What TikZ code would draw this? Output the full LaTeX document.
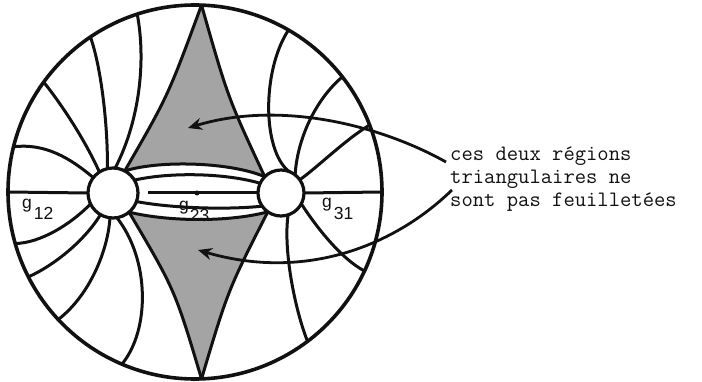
\documentclass[tikz,border=0pt]{standalone}
\usepackage{fontspec}
\usepackage{xcolor}
\usepackage{tikz}
\usetikzlibrary{arrows.meta}
\newfontfamily\labelfont{Liberation Sans}
\definecolor{FoliationInk}{HTML}{111111}
\definecolor{FoliationShade}{HTML}{A4A4A4}

\begin{document}
\begin{tikzpicture}[x=1pt,y=-1pt,
    leaf/.style={FoliationInk, line width=3pt},
    disc/.style={circle, draw=FoliationInk, line width=3.2pt, inner sep=0pt, outer sep=0pt, fill=white},
    noteline/.style={anchor=base west, inner sep=0pt, text=FoliationInk, font=\ttfamily\fontsize{22pt}{23pt}\selectfont},
    leaflabel/.style={anchor=base west, inner sep=0pt, text=FoliationInk, font=\labelfont\fontsize{17.5pt}{20pt}\selectfont},
    pointer/.style={FoliationInk, line width=2.8pt, -{Stealth[length=14pt,width=12pt]}}]
  \useasboundingbox (0,0) rectangle (702,382);
  \node[disc, minimum size=374pt, line width=3.6pt, fill=none] (bc) at (195,192) {};
  \node[disc, minimum size=50pt] (lc) at (113,193) {};
  \node[disc, minimum size=46pt] (rc) at (281,193) {};
  \fill[FoliationShade] (lc.62) .. controls (168,96) .. (bc.88) .. controls (228,98) .. (rc.135)
    .. controls (230,162) and (160,160) .. (lc.62) -- cycle;
  \fill[FoliationShade] (lc.-50) .. controls (170,222) and (230,222) .. (rc.235)
    .. controls (228,290) .. (bc.272.5) .. controls (175,290) .. (lc.-50) -- cycle;
  \node[leaflabel] (g12) at (22,209) {g\hspace{2pt}\raisebox{-11pt}{12}};
  \node[leaflabel] (g23) at (179,211) {g\hspace{1pt}\raisebox{-10.5pt}{23}};
  \node[leaflabel] (g31) at (322,207.5) {g\hspace{2pt}\raisebox{-12pt}{31}};
  \draw[leaf] (lc.62) .. controls (168,96) .. (bc.88);
  \draw[leaf] (rc.135) .. controls (228,98) .. (bc.88);
  \draw[leaf] (lc.-50) .. controls (175,290) .. (bc.272.5);
  \draw[leaf] (rc.235) .. controls (228,290) .. (bc.272.5);
  \draw[leaf] (lc.62) .. controls (160,160) and (230,162) .. (rc.135);
  \draw[leaf] (lc.31) .. controls (170,172) and (225,173) .. (rc.155);
  \coordinate (midStart) at (148,193);
  \draw[leaf] (midStart) -- (rc.180);
  \node[circle, fill=FoliationInk, inner sep=0pt, minimum size=5pt] (midDot) at (197,193) {};
  \draw[leaf] (lc.-20) .. controls (170,208) and (225,210) .. (rc.215);
  \draw[leaf] (lc.-50) .. controls (170,222) and (230,222) .. (rc.235);
  \draw[leaf] (lc.180) -- (bc.180);
  \draw[leaf] (lc.142) .. controls (70,158) and (45,143) .. (bc.166);
  \draw[leaf] (lc.123) .. controls (85,140) and (62,105) .. (bc.144.4);
  \draw[leaf] (lc.103) .. controls (108,130) and (102,70) .. (bc.124.5);
  \draw[leaf] (lc.85) .. controls (140,120) and (146,60) .. (bc.108);
  \draw[leaf] (lc.206) .. controls (70,225) and (40,243) .. (bc.196.4);
  \draw[leaf] (lc.240) .. controls (85,240) and (55,265) .. (bc.207);
  \draw[leaf] (lc.263) .. controls (108,250) and (90,295) .. (bc.223.2);
  \draw[leaf] (lc.279) .. controls (150,260) and (150,330) .. (bc.247.6);
  \draw[leaf] (rc.0) -- (bc.0);
  \draw[leaf] (rc.70) .. controls (262,150) and (262,70) .. (bc.60.1);
  \draw[leaf] (rc.52) .. controls (297,140) and (315,100) .. (bc.38.8);
  \draw[leaf] (rc.35) .. controls (320,165) and (345,140) .. (bc.21.5);
  \draw[leaf] (rc.-28) .. controls (315,225) and (340,258) .. (bc.335);
  \draw[leaf] (rc.-72) .. controls (283,250) and (295,310) .. (bc.307.4);
  \node[noteline] (line1) at (450,161) {ces deux régions};
  \node[noteline] (line2) at (450,184) {triangulaires ne};
  \node[noteline] (line3) at (450,207) {sont pas feuilletées};
  \coordinate (upTip) at (188,128);
  \coordinate (loTip) at (198,250);
  \draw[pointer] ([shift={(-4pt,-1pt)}]line1.base west) .. controls (380,125) and (280,100) .. (upTip);
  \draw[pointer] ([shift={(2pt,-6pt)}]line2.base west) .. controls (390,250) and (300,280) .. (loTip);
\end{tikzpicture}
\end{document}
